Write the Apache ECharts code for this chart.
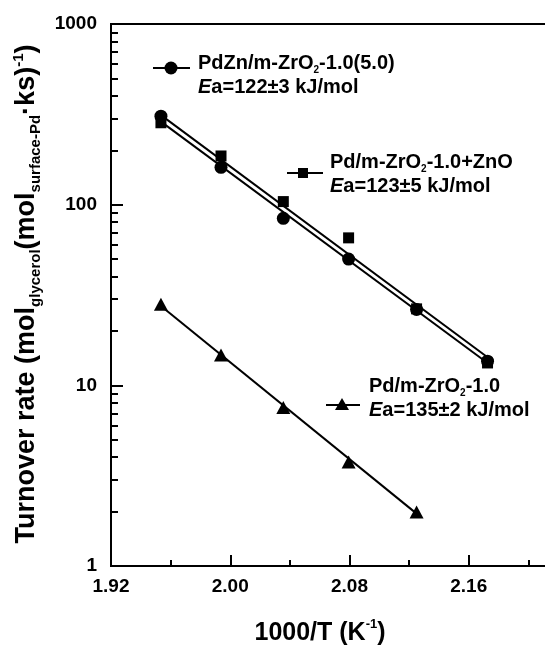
<!DOCTYPE html>
<html lang="en">
<head>
    <meta charset="UTF-8">
    <title>Turnover rate - Arrhenius plot</title>
    <script src="https://cdn.jsdelivr.net/npm/echarts@6.0.0/dist/echarts.min.js"></script>
    <style>
        html, body { margin: 0; padding: 0; background: #fff; }
        #chart { width: 545px; height: 645px; }
    </style>
</head>
<body>
<div id="chart"></div>
<script>
    // 1000/T values (K^-1)
    let xVals = [1.9535, 1.9938, 2.0356, 2.0794, 2.125, 2.1726];
    // turnover rates
    let pdznRate = [309, 161, 84, 50, 26.3, 13.6];
    let pdZnoRate = [284, 186, 104, 65.5, 26.5, 13.3];
    let pdRate = [28.1, 14.7, 7.55, 3.76, 1.99];
    // fitted lines, end points
    let fitPdzn = [[1.9535, 313], [2.1726, 14.3]];
    let fitPdZno = [[1.9535, 288], [2.1726, 13.3]];
    let fitPd = [[1.9535, 27.5], [2.125, 1.95]];
    // y minor tick values
    let minorTickVals = [2, 3, 4, 5, 6, 7, 8, 9, 20, 30, 40, 50, 60, 70, 80, 90, 200, 300, 400, 500, 600, 700, 800, 900];

    function pairs(xs, ys) {
        return ys.map(function (y, i) { return [xs[i], y]; });
    }

    const FONT = '"Liberation Sans", Arial, sans-serif';
    let myChart = echarts.init(document.getElementById('chart'));

    //图例文字
    function legendText(x, y, lines) {
        return [
            {
                type: 'text', x: x, y: y,
                style: {
                    text: lines[0], fontFamily: FONT, verticalAlign: 'middle', align: 'left',
                    rich: {
                        t: {fontSize: 20, fontWeight: 'bold', fontFamily: FONT, lineHeight: 24, verticalAlign: 'middle', fill: '#000'},
                        s: {fontSize: 10, fontWeight: 'bold', fontFamily: FONT, lineHeight: 10, verticalAlign: 'bottom', fill: '#000'}
                    }
                }
            },
            {
                type: 'text', x: x, y: y + 24,
                style: {
                    text: lines[1], fontFamily: FONT, verticalAlign: 'middle', align: 'left',
                    rich: {
                        t: {fontSize: 20, fontWeight: 'bold', fontFamily: FONT, lineHeight: 24, verticalAlign: 'middle', fill: '#000'},
                        i: {fontSize: 20, fontWeight: 'bold', fontStyle: 'italic', fontFamily: FONT, lineHeight: 24, verticalAlign: 'middle', fill: '#000'}
                    }
                }
            }
        ];
    }

    function legendIcon(x1, x2, y, shape) {
        return [
            {type: 'line', shape: {x1: x1, y1: y, x2: x2, y2: y}, style: {stroke: '#000', lineWidth: 2}},
            shape
        ];
    }

    let graphics = [].concat(
        legendIcon(153, 190, 68, {type: 'circle', shape: {cx: 171, cy: 68, r: 6.5}, style: {fill: '#000'}}),
        legendText(198, 63, ['{t|PdZn/m-ZrO}{s|2}{t|-1.0(5.0)}', '{i|E}{t|a=122±3 kJ/mol}']),
        legendIcon(287, 323, 173, {type: 'rect', shape: {x: 298, y: 168, width: 10, height: 10}, style: {fill: '#000'}}),
        legendText(330, 162, ['{t|Pd/m-ZrO}{s|2}{t|-1.0+ZnO}', '{i|E}{t|a=123±5 kJ/mol}']),
        legendIcon(326, 360, 405, {type: 'polygon', shape: {points: [[342, 398], [349, 410], [335, 410]]}, style: {fill: '#000'}}),
        legendText(369, 386, ['{t|Pd/m-ZrO}{s|2}{t|-1.0}', '{i|E}{t|a=135±2 kJ/mol}']),
        [
            {
                type: 'text', x: 27, y: 294, rotation: Math.PI / 2,
                style: {
                    text: '{m|Turnover rate (mol}{b|glycerol}{m|(mol}{b|surface-Pd}{m|·ks)}{p|-1}{m|)}',
                    align: 'center', verticalAlign: 'middle', fontFamily: FONT,
                    rich: {
                        m: {fontSize: 27, fontWeight: 'bold', fontFamily: FONT, lineHeight: 32, verticalAlign: 'middle', fill: '#000'},
                        b: {fontSize: 15, fontWeight: 'bold', fontFamily: FONT, lineHeight: 15, verticalAlign: 'bottom', fill: '#000'},
                        p: {fontSize: 15, fontWeight: 'bold', fontFamily: FONT, lineHeight: 15, verticalAlign: 'top', fill: '#000'}
                    }
                }
            },
            {
                type: 'text', x: 320, y: 633,
                style: {
                    text: '{m|1000/T (K}{p|-1}{m|)}',
                    align: 'center', verticalAlign: 'middle', fontFamily: FONT,
                    rich: {
                        m: {fontSize: 25, fontWeight: 'bold', fontFamily: FONT, lineHeight: 30, verticalAlign: 'middle', fill: '#000'},
                        p: {fontSize: 13, fontWeight: 'bold', fontFamily: FONT, lineHeight: 13, verticalAlign: 'top', fill: '#000'}
                    }
                }
            }
        ]
    );

    let fitLine = {color: '#000', width: 2};

    let option = {
        backgroundColor: '#fff',
        animation: false,
        grid: {
            left: 111, top: 24, bottom: 79, right: -43,
            outerBoundsMode: 'none', containLabel: false,
            show: true, borderColor: '#000', borderWidth: 2
        },
        xAxis: {
            type: 'value', min: 1.92, max: 2.24, interval: 0.08,
            axisLine: {show: true, lineStyle: {color: '#000', width: 2}},
            axisTick: {show: true, inside: true, length: 11, lineStyle: {color: '#000', width: 2}},
            minorTick: {show: true, splitNumber: 2, length: 6, lineStyle: {color: '#000', width: 2}},
            axisLabel: {
                margin: 11, color: '#000', fontSize: 19, fontWeight: 'bold', fontFamily: FONT,
                formatter: function (v) { return v.toFixed(2); }
            },
            splitLine: {show: false}
        },
        yAxis: [
            {
                type: 'log', logBase: 10, min: 1, max: 1000,
                axisLine: {show: true, lineStyle: {color: '#000', width: 2}},
                axisTick: {show: true, inside: true, length: 12, lineStyle: {color: '#000', width: 2}},
                axisLabel: {
                    margin: 14, color: '#000', fontSize: 19, fontWeight: 'bold', fontFamily: FONT,
                    formatter: function (v) { return String(Math.round(v)); }
                },
                splitLine: {show: false}
            },
            {
                // minor ticks of the log axis, placed in log10 space
                type: 'value', min: 0, max: 3, position: 'left',
                axisLine: {show: false},
                axisTick: {
                    show: true, inside: true, length: 7,
                    customValues: minorTickVals.map(Math.log10),
                    lineStyle: {color: '#000', width: 2}
                },
                axisLabel: {show: false},
                splitLine: {show: false}
            }
        ],
        series: [
            {type: 'line', data: fitPdzn, symbol: 'none', lineStyle: fitLine, z: 2},
            {type: 'line', data: fitPdZno, symbol: 'none', lineStyle: fitLine, z: 2},
            {type: 'line', data: fitPd, symbol: 'none', lineStyle: fitLine, z: 2},
            {name: 'PdZn/m-ZrO2-1.0(5.0)', type: 'scatter', data: pairs(xVals, pdznRate), symbol: 'circle', symbolSize: 13, itemStyle: {color: '#000', opacity: 1}, z: 3},
            {name: 'Pd/m-ZrO2-1.0+ZnO', type: 'scatter', data: pairs(xVals, pdZnoRate), symbol: 'rect', symbolSize: 11, itemStyle: {color: '#000', opacity: 1}, z: 3},
            {name: 'Pd/m-ZrO2-1.0', type: 'scatter', data: pairs(xVals, pdRate), symbol: 'triangle', symbolSize: [14, 13], itemStyle: {color: '#000', opacity: 1}, z: 3}
        ],
        graphic: graphics
    };
    myChart.setOption(option);
</script>
</body>
</html>
